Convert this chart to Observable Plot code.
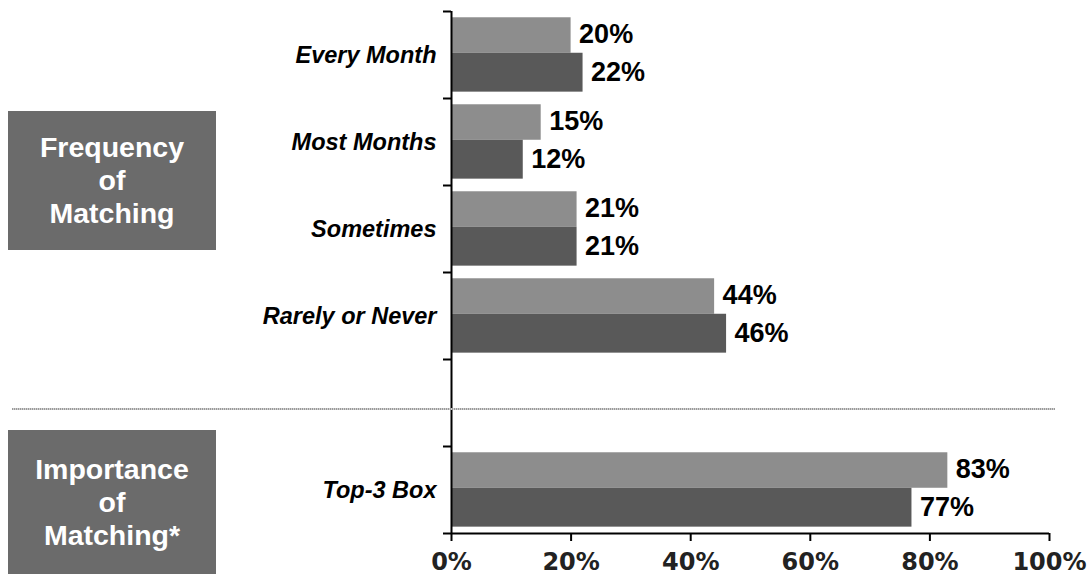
<!DOCTYPE html>
<html>
<head>
<meta charset="utf-8">
<script src="https://cdn.jsdelivr.net/npm/d3@7"></script>
<script src="https://cdn.jsdelivr.net/npm/@observablehq/plot@0.6"></script>
<style>
  html, body { margin: 0; padding: 0; background: #fff; }
  #wrap { position: relative; width: 1091px; height: 577px; overflow: hidden; }
  #chart { position: absolute; left: 0; top: 0; }
  .box {
    position: absolute; left: 8px; width: 208px;
    background: #6b6b6b; color: #fff;
    font-family: "Liberation Sans", Arial, sans-serif; font-weight: bold;
    font-size: 28.5px; line-height: 33px; text-align: center;
    display: flex; align-items: center; justify-content: center;
  }
  #sep { position: absolute; left: 12px; top: 408px; width: 1043px; height: 2px;
    background: repeating-linear-gradient(90deg, #9a9a9a 0 1px, #d0d0d0 1px 2px); }
</style>
</head>
<body>
<div id="wrap">
  <div id="chart"></div>
  <div id="sep"></div>
  <div class="box" style="top:111px;height:139px;">Frequency<br>of<br>Matching</div>
  <div class="box" style="top:430px;height:144px;">Importance<br>of<br>Matching*</div>
</div>
<script>
const categories = ["Every Month", "Most Months", "Sometimes", "Rarely or Never", "", "Top-3 Box"];
const seriesNames = ["Series 1", "Series 2"];
const series1 = [20, 15, 21, 44, null, 83];
const series2 = [22, 12, 21, 46, null, 77];
const xTicks = [0, 20, 40, 60, 80, 100];

const rows = [];
categories.forEach((c, i) => {
  [series1, series2].forEach((s, k) => {
    if (s[i] != null) rows.push({cat: c, idx: i, series: seriesNames[k], k, value: s[i]});
  });
});
// bar slots inside each category band
const slot = [[0.072, 0.48], [0.48, 0.927]];
const labelPos = [0.265, 0.705];
const fills = ["#8d8d8d", "#595959"];

const catRows = categories.map((c, i) => ({cat: c, idx: i})).filter(d => d.cat !== "");

const chart = Plot.plot({
  width: 1091,
  height: 577,
  marginTop: 11,
  marginBottom: 44,
  marginLeft: 451,
  marginRight: 42,
  x: {domain: [0, 100], label: null},
  y: {domain: [categories.length, 0], label: null},
  style: {background: "transparent"},
  marks: [
    Plot.rectX(rows, {
      x1: 0, x2: "value",
      y1: d => d.idx + slot[d.k][0],
      y2: d => d.idx + slot[d.k][1],
      fill: d => fills[d.k]
    }),
    Plot.text(rows, {
      x: "value",
      y: d => d.idx + labelPos[d.k],
      text: d => d.value + "%",
      dx: 8, textAnchor: "start",
      fontSize: 27, fontWeight: "bold",
      fontFamily: "Liberation Sans, Arial, sans-serif",
      fill: "#000"
    }),
    Plot.text(catRows, {
      x: 0, y: d => d.idx + 0.5, text: "cat",
      dx: -15, textAnchor: "end",
      fontSize: 23.5, fontWeight: "bold", fontStyle: "italic",
      fontFamily: "Liberation Sans, Arial, sans-serif",
      fill: "#000"
    }),
    Plot.ruleX([0], {y1: 0, y2: categories.length, stroke: "#000", strokeWidth: 2}),
    Plot.ruleY([categories.length], {x1: 0, x2: 100, stroke: "#000", strokeWidth: 2}),
    Plot.axisY(d3.range(categories.length + 1), {
      tickSize: 8, tickFormat: () => "", stroke: "#000", strokeWidth: 2, label: null
    }),
    Plot.axisX(xTicks, {
      tickSize: 8, tickPadding: 11, tickFormat: d => d + "%",
      stroke: "#000", strokeWidth: 2, label: null,
      fontSize: 24, fontWeight: "bold",
      fontFamily: "DejaVu Sans, Verdana, sans-serif",
      fill: "#222"
    })
  ]
});
document.getElementById("chart").appendChild(chart);
</script>
</body>
</html>
